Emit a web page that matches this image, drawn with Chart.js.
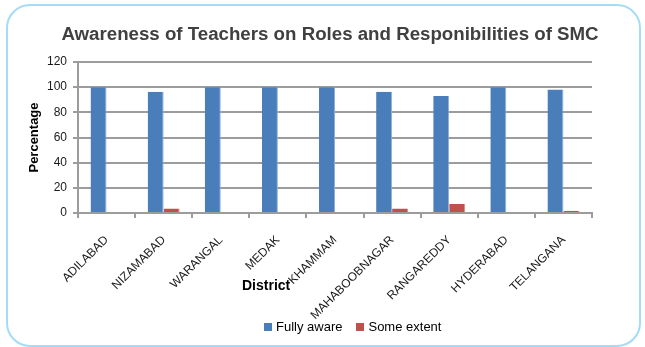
<!DOCTYPE html>
<html>
<head>
<meta charset="utf-8">
<script src="https://cdn.jsdelivr.net/npm/chart.js@4.4.1/dist/chart.umd.min.js"></script>
<style>
  html, body { margin: 0; padding: 0; background: #fff; }
  #wrap { position: relative; width: 645px; height: 347px; overflow: hidden; font-family: 'Liberation Sans', Arial, sans-serif; }
  #frame { position: absolute; left: 6px; top: 4px; width: 631px; height: 339px; border: 2px solid #a4dcf6; border-radius: 24px; }
  #chart { position: absolute; left: 0; top: 0; }
  #title { position: absolute; left: 0; width: 660px; top: 23px; text-align: center; font-weight: bold; font-size: 18.7px; color: #404040; white-space: nowrap; }
  #xtitle { position: absolute; left: 242px; top: 277px; font-weight: bold; font-size: 14px; color: #000; }
  #legend { position: absolute; left: 264px; top: 319px; display: flex; align-items: center; font-size: 13px; color: #000; }
  #legend .item { display: flex; align-items: center; margin-right: 14px; }
  #legend .box { width: 8px; height: 8px; margin-right: 4px; }
</style>
</head>
<body>
<div id="wrap">
  <div id="frame"></div>
  <canvas id="chart" width="645" height="347"></canvas>
  <div id="title">Awareness of Teachers on Roles and Responibilities of SMC</div>
  <div id="xtitle">District</div>
  <div id="legend"></div>
</div>
<script>
// districts and survey percentages
const districts = ['ADILABAD', 'NIZAMABAD', 'WARANGAL', 'MEDAK', 'KHAMMAM', 'MAHABOOBNAGAR', 'RANGAREDDY', 'HYDERABAD', 'TELANGANA'];
const fullyAware = [100, 96.4, 100, 100, 100, 96.4, 92.9, 100, 98.2];
const someExtent = [0, 3.6, 0, 0, 0, 3.6, 7.1, 0, 1.8];
const seriesNames = ['Fully aware', 'Some extent'];
const seriesColors = ['#4a7ebb', '#c0504d'];
const yTicks = [0, 20, 40, 60, 80, 100, 120];

const gridGray = '#9c9c9c';

// build the legend underneath
function buildLegend() {
    const legend = document.getElementById('legend');
    seriesNames.forEach((name, i) => {
        const item = document.createElement('div');
        item.className = 'item';
        const box = document.createElement('span');
        box.className = 'box';
        box.style.background = seriesColors[i];
        const label = document.createElement('span');
        label.textContent = name;
        item.appendChild(box);
        item.appendChild(label);
        legend.appendChild(item);
    });
}

function createChart() {
    const ctx = document.getElementById('chart').getContext('2d');
    return new Chart(ctx, {
        type: 'bar',
        data: {
            labels: districts,
            datasets: [
                {
                    label: seriesNames[0],
                    data: fullyAware,
                    backgroundColor: seriesColors[0],
                    borderColor: '#8eafd9',
                    borderWidth: { right: 1, top: 0, left: 0, bottom: 0 },
                    categoryPercentage: 0.56,
                    barPercentage: 1
                },
                {
                    label: seriesNames[1],
                    data: someExtent,
                    backgroundColor: seriesColors[1],
                    borderColor: '#d98986',
                    borderWidth: { right: 1, top: 0, left: 0, bottom: 0 },
                    categoryPercentage: 0.56,
                    barPercentage: 1
                }
            ]
        },
        options: {
            responsive: false,
            animation: false,
            layout: {
                padding: { left: 23, right: 53, top: 62, bottom: 0 }
            },
            plugins: {
                legend: { display: false },
                tooltip: { enabled: false }
            },
            scales: {
                x: {
                    grid: {
                        offset: true,
                        drawOnChartArea: false,
                        drawTicks: true,
                        tickLength: 5,
                        color: gridGray,
                        lineWidth: 2
                    },
                    border: { color: gridGray, width: 2 },
                    ticks: {
                        color: '#1a1a1a',
                        font: { family: 'Liberation Sans', size: 12 },
                        minRotation: 45,
                        maxRotation: 45,
                        padding: 15,
                        autoSkip: false
                    },
                    afterFit: (scale) => { scale.height = 134; }
                },
                y: {
                    min: 0,
                    max: 120,
                    afterBuildTicks: (scale) => { scale.ticks = yTicks.map(v => ({ value: v })); },
                    grid: {
                        color: gridGray,
                        lineWidth: 2,
                        tickLength: 5
                    },
                    border: { color: gridGray, width: 2 },
                    ticks: {
                        color: '#1a1a1a',
                        font: { family: 'Liberation Sans', size: 12 },
                        padding: 6
                    },
                    title: {
                        display: true,
                        text: 'Percentage',
                        color: '#000',
                        font: { family: 'Liberation Sans', size: 13, weight: 'bold' },
                        padding: { top: 4, bottom: 0 }
                    },
                    afterFit: (scale) => { scale.width = 55; }
                }
            }
        }
    });
}

buildLegend();
const chart = createChart();
</script>
</body>
</html>
